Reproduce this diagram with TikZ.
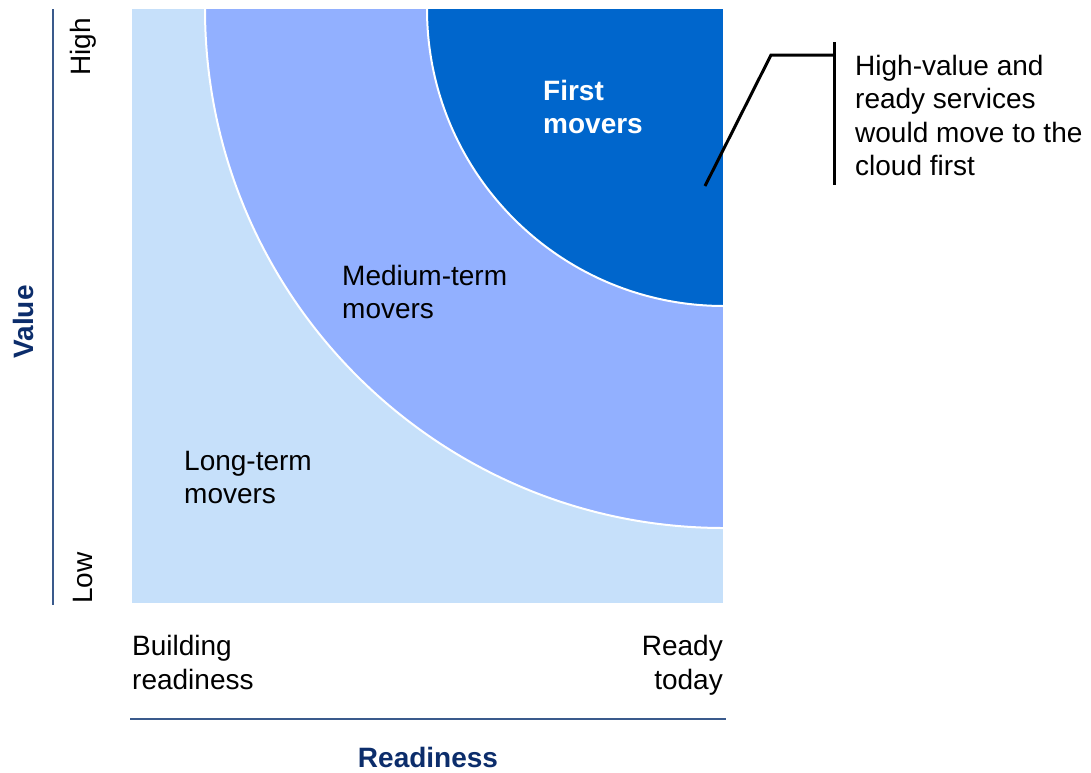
\documentclass[tikz,border=0pt]{standalone}
\usepackage{fontspec}
\setmainfont{Liberation Sans}
\definecolor{lightfill}{HTML}{C6E0FA}
\definecolor{midfill}{HTML}{92B0FF}
\definecolor{darkfill}{HTML}{0066CC}
\definecolor{axisline}{HTML}{3A5A8C}
\definecolor{navy}{HTML}{0C2D6B}
\begin{document}
\begin{tikzpicture}[x=1pt,y=-1pt,
  lbl/.style={inner sep=0pt,font=\fontsize{28}{33.5}\selectfont},
  axlbl/.style={inner sep=0pt,font=\fontsize{28}{33.5}\selectfont\bfseries,text=navy},
  axisrule/.style={draw=axisline,line width=1.5pt},
  arcline/.style={draw=white,line width=2pt},
  callline/.style={draw=black,line width=3pt}]
\useasboundingbox (0,0) rectangle (1091,772);
% regions
\fill[lightfill] (132,9) rectangle (723,603);
\fill[midfill] (724,9) -- (205,9) arc[start angle=180,end angle=90,radius=519] -- cycle;
\fill[darkfill] (724,9) -- (427,9) arc[start angle=180,end angle=90,radius=297] -- cycle;
\draw[arcline] (205,9) arc[start angle=180,end angle=90,radius=519];
\draw[arcline] (427,9) arc[start angle=180,end angle=90,radius=297];
\fill[white] (723,0) rectangle (740,610);
\fill[white] (120,0) rectangle (740,9);
% region labels
\node[lbl,anchor=north west,align=left,text=white,font=\fontsize{28}{33.5}\selectfont\bfseries] (first) at (543,80) {First\\movers};
\node[lbl,anchor=north west,align=left] (medium) at (342,265) {Medium-term\\movers};
\node[lbl,anchor=north west,align=left] (long) at (184,451) {Long-term\\movers};
% axis labels
\node[lbl,anchor=north west,align=left] (building) at (132,635) {Building\\readiness};
\node[lbl,anchor=north east,align=right] (ready) at (723,635) {Ready\\today};
\node[lbl,rotate=90] (high) at (83,47) {High};
\node[lbl,rotate=90] (low) at (83,578) {Low};
\node[axlbl,rotate=90] (value) at (23,322) {Value};
\node[axlbl] (readiness) at (428,757) {Readiness};
% axis rules
\coordinate (vtop) at (53,9);
\coordinate (vbot) at (53,605);
\coordinate (hleft) at (130,719);
\coordinate (hright) at (726,719);
\draw[axisrule] (vtop) -- (vbot);
\draw[axisrule] (hleft) -- (hright);
% callout
\node[lbl,anchor=north west,align=left] (note) at (855,55) {High-value and\\ready services\\would move to the\\cloud first};
\coordinate (bartop) at (834,42);
\coordinate (barbot) at (834,185);
\coordinate (elbow) at (771,55);
\coordinate (barmid) at (834,55);
\coordinate (tip) at (705,186);
\draw[callline] (bartop) -- (barbot);
\draw[callline,line join=miter] (tip) -- (elbow) -- (barmid);
\end{tikzpicture}
\end{document}
